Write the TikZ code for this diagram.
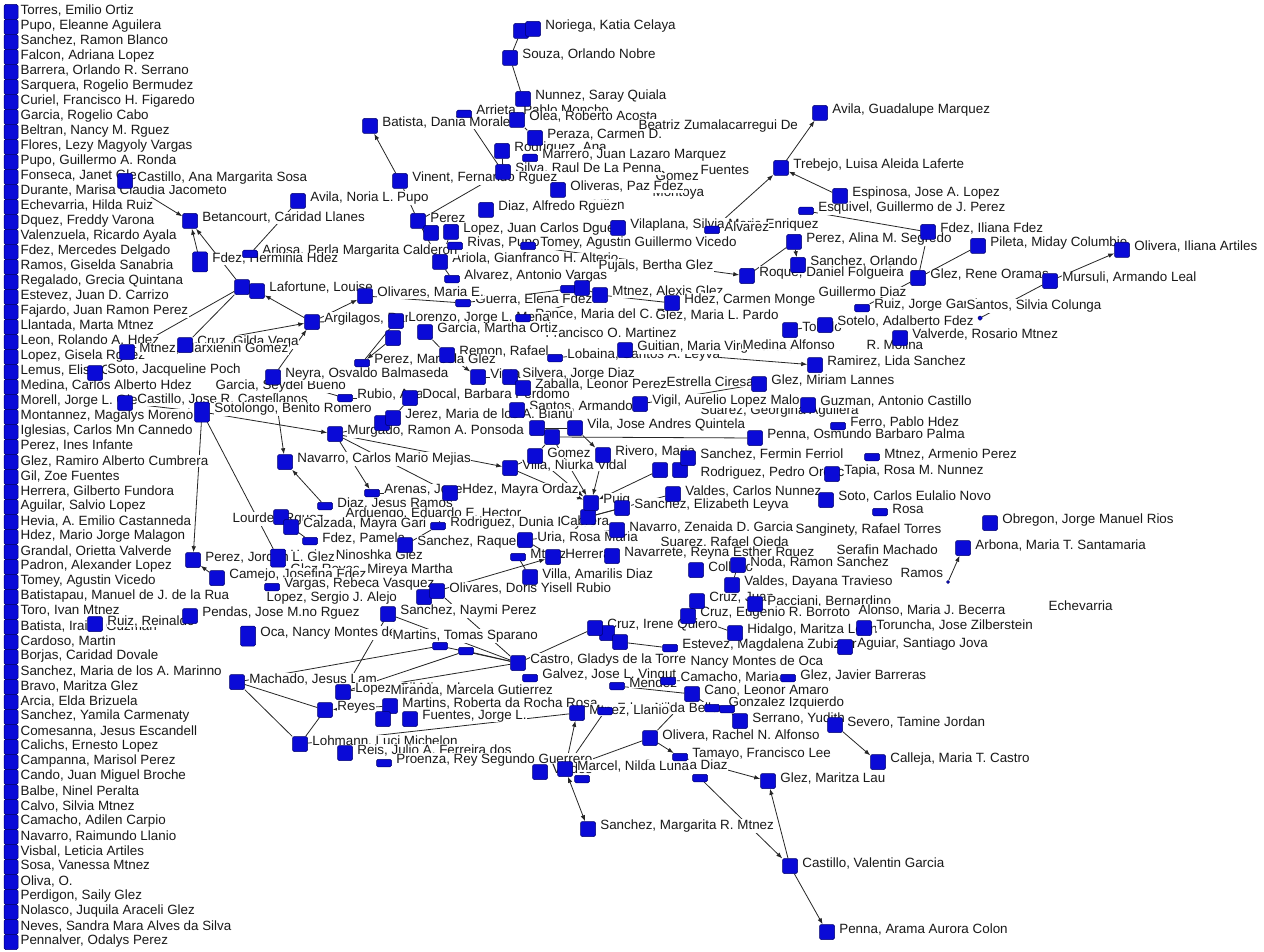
\documentclass[tikz,border=0pt]{standalone}
\usepackage{fontspec}
\setmainfont{Liberation Sans}
\usetikzlibrary{arrows.meta}
\definecolor{sqblue}{RGB}{10,10,215}
\definecolor{sqedge}{RGB}{0,0,110}
\definecolor{txt}{RGB}{25,25,25}
\pgfdeclarelayer{bg}\pgfdeclarelayer{fg}\pgfsetlayers{bg,main,fg}
\tikzset{
 sq/.style={rectangle,minimum width=15pt,minimum height=15pt,inner sep=0pt,fill=sqblue,draw=sqedge,line width=0.5pt,rounded corners=1.5pt},
 sqf/.style={sq,minimum height=7.5pt},
 lbl/.style={anchor=west,inner sep=0.4pt,fill=white,text=txt,font=\fontsize{13.4}{15}\selectfont},
 ar/.style={draw=black!85,line width=0.8pt,-{Latex[length=6pt,width=4.5pt]}},
 ln/.style={draw=black!85,line width=0.8pt},
 ar2/.style={draw=black!85,line width=0.8pt,{Latex[length=6pt,width=4.5pt]}-{Latex[length=6pt,width=4.5pt]}},
}
\newcommand\Nd[4][]{\begin{pgfonlayer}{fg}\node[sq,#1] (#2) at (#3) {};\end{pgfonlayer}\node[lbl] at ([xshift=4pt,yshift=3pt]#2.east) {#4};}
\newcommand\Nf[4][]{\begin{pgfonlayer}{fg}\node[sqf,#1] (#2) at (#3) {};\end{pgfonlayer}\node[lbl] at ([xshift=4pt,yshift=3pt]#2.east) {#4};}
\newcommand\Nq[3][]{\begin{pgfonlayer}{fg}\node[sq,#1] (#2) at (#3) {};\end{pgfonlayer}}
\newcommand\Nqf[3][]{\begin{pgfonlayer}{fg}\node[sqf,#1] (#2) at (#3) {};\end{pgfonlayer}}
\newcommand\Lb[2]{\node[lbl] at (#1) {#2};}
\begin{document}
\begin{tikzpicture}[x=1pt,y=-1pt]
\useasboundingbox (0,0) rectangle (1264,952);
\begin{pgfonlayer}{bg}\fill[white] (0,0) rectangle (1264,952);\end{pgfonlayer}
% left column of isolates
\foreach \t [count=\i] in {{Torres, Emilio Ortiz},{Pupo, Eleanne Aguilera},{Sanchez, Ramon Blanco},{Falcon, Adriana Lopez},{Barrera, Orlando R. Serrano},{Sarquera, Rogelio Bermudez},{Curiel, Francisco H. Figaredo},{Garcia, Rogelio Cabo},{Beltran, Nancy M. Rguez},{Flores, Lezy Magyoly Vargas},{Pupo, Guillermo A. Ronda},{Fonseca, Janet Glez},{Durante, Marisa Claudia Jacometo},{Echevarria, Hilda Ruiz},{Dquez, Freddy Varona},{Valenzuela, Ricardo Ayala},{Fdez, Mercedes Delgado},{Ramos, Giselda Sanabria},{Regalado, Grecia Quintana},{Estevez, Juan D. Carrizo},{Fajardo, Juan Ramon Perez},{Llantada, Marta Mtnez},{Leon, Rolando A. Hdez},{Lopez, Gisela Rguez},{Lemus, Elisa Glez},{Medina, Carlos Alberto Hdez},{Morell, Jorge L. Glez},{Montannez, Magalys Moreno},{Iglesias, Carlos Mn Cannedo},{Perez, Ines Infante},{Glez, Ramiro Alberto Cumbrera},{Gil, Zoe Fuentes},{Herrera, Gilberto Fundora},{Aguilar, Salvio Lopez},{Hevia, A. Emilio Castanneda},{Hdez, Mario Jorge Malagon},{Grandal, Orietta Valverde},{Padron, Alexander Lopez},{Tomey, Agustin Vicedo},{Batistapau, Manuel de J. de la Rua},{Toro, Ivan Mtnez},{Batista, Iraida Guzman},{Cardoso, Martin},{Borjas, Caridad Dovale},{Sanchez, Maria de los A. Marinno},{Bravo, Maritza Glez},{Arcia, Elda Brizuela},{Sanchez, Yamila Carmenaty},{Comesanna, Jesus Escandell},{Calichs, Ernesto Lopez},{Campanna, Marisol Perez},{Cando, Juan Miguel Broche},{Balbe, Ninel Peralta},{Calvo, Silvia Mtnez},{Camacho, Adilen Carpio},{Navarro, Raimundo Llanio},{Visbal, Leticia Artiles},{Sosa, Vanessa Mtnez},{Oliva, O.},{Perdigon, Saily Glez},{Nolasco, Juquila Araceli Glez},{Neves, Sandra Mara Alves da Silva},{Pennalver, Odalys Perez}}{
  \pgfmathsetmacro\yy{12+15*(\i-1)}
  \node[sq,minimum width=14pt] (L\i) at (11,\yy) {};
  \node[lbl] at (20,\yy-1) {\t};
}
% ---- top cluster
\Nq{nor2}{521,31}
\Nd{nor}{533,29}{Noriega, Katia Celaya}
\Nd{sou}{510,58}{Souza, Orlando Nobre}
\Nd{nun}{523,99}{Nunnez, Saray Quiala}
\Nf{arr}{464,114}{Arrieta, Pablo Moncho}
\Nd{ole}{517,120}{Olea, Roberto Acosta}
\Lb{638,126}{Beatriz Zumalacarregui De}
\Nd{per}{535,138}{Peraza, Carmen D.}
\Nd{roj}{502,151}{Rodriguez, Ana}
\Nf{marr}{530,158}{Marrero, Juan Lazaro Marquez}
\Lb{700,170}{Fuentes}
\Lb{655,176}{Gomez}
\Nd{sil}{503,172}{Silva, Raul De La Penna}
\Lb{652,193}{Montoya}
\Nd{oliv}{558,190}{Oliveras, Paz Fdez}
\Lb{592,205}{Milan}
\Nd{diaA}{486,210}{Diaz, Alfredo Rguez}
\Nd{batD}{370,126}{Batista, Dania Morales}
\Nd{vin}{400,181}{Vinent, Fernando Rguez}
\Nd{aviN}{298,201}{Avila, Noria L. Pupo}
\Nd{perz}{418,221}{Perez}
\Nq{lq1}{431,233}
\Nd{lopJ}{451,232}{Lopez, Juan Carlos Dguez}
\Nf{riv}{455,246}{Rivas, Pupo}
\Nd{vila}{618,228}{Vilaplana, Silvia Maria Enriquez}
\Nf{aco}{712,230}{Alvarez}
\Nf{tomV}{528,246}{Tomey, Agustin Guillermo Vicedo}
\Nd{ari}{440,262}{Ariola, Gianfranco H. Alterio}
\Lb{598,266}{Pujals, Bertha Glez}
\Nf{alvA}{452,279}{Alvarez, Antonio Vargas}
\Nqf{q2}{568,289}
\Nq{q3}{582,288}
\Nf{gue}{463,303}{Guerra, Elena Fdez}
\Nd{mtA}{600,295}{Mtnez, Alexis Glez}
\Nd{hdzC}{672,303}{Hdez, Carmen Monge}
\Nf{ponC}{523,318}{Ponce, Maria del C. Rguez}
\Lb{655,316}{Glez, Maria L. Pardo}
\Lb{545,333}{Francisco O. Martinez}
% ---- left cluster
\Nd{casA}{125,181}{Castillo, Ana Margarita Sosa}
\Nd{bet}{190,221}{Betancourt, Caridad Llanes}
\Nf{ariP}{250,254}{Ariosa, Perla Margarita Calderon}
\Nd[minimum height=20pt]{fdH}{200,262}{Fdez, Herminia Hdez}
\Nq{laf2}{242,287}
\Nd{laf}{257,291}{Lafortune, Louise}
\Nd{olME}{365,296}{Olivares, Maria E.}
\Nd{arg}{312,322}{Argilagos, Ramon}
\Nd{lor}{396,321}{Lorenzo, Jorge L. Mena}
\Nq{ga2}{393,338}
\Nd{garM}{425,332}{Garcia, Martha Ortiz}
\Nd{cruG}{185,345}{Cruz, Gilda Vega}
\Nd{mtM}{127,352}{Mtnez, Marxienin Gomez}
\Nd{rem}{447,355}{Remon, Rafael}
\Nf{lob}{555,358}{Lobaina, Santos A. Leyva}
\Nd{gui}{625,350}{Guitian, Maria Virginia Glez}
\Nf{perMG}{362,363}{Perez, Marcela Glez}
\Nd{sotJ}{95,373}{Soto, Jacqueline Poch}
\Lb{215,386}{Garcia, Seydel Bueno}
\Nd{ney}{273,377}{Neyra, Osvaldo Balmaseda}
\Nd{vi}{478,377}{Vieta}
\Nd{silv}{510,377}{Silvera, Jorge Diaz}
\Nd{zab}{523,388}{Zaballa, Leonor Perez}
\Lb{666,382}{Estrella Ciresa}
\Nf{rub}{345,398}{Rubio, Ana}
\Nd{doc}{410,398}{Docal, Barbara Perdomo}
\Nd{san}{517,410}{Santos, Armando}
\Nd{casJ}{125,403}{Castillo, Jose R. Castellanos}
\Nd[minimum height=20pt]{sotB}{202,412}{Sotolongo, Benito Romero}
\Nq{jer2}{382,423}
\Nd{jer}{393,418}{Jerez, Maria de los A. Bianu}
\Lb{700,411}{Suarez, Georgina Aguilera}
\Nd{vig}{640,404}{Vigil, Aurelio Lopez Malo}
\Nd{glM}{759,384}{Glez, Miriam Lannes}
\Nd{ram}{815,365}{Ramirez, Lida Sanchez}
\Nd{guz}{808,405}{Guzman, Antonio Castillo}
\Nd{mur}{335,434}{Murgado, Ramon A. Ponsoda}
\Nq{riz}{537,428}
\Nq{riz2}{552,437}
\Nd{vilJ}{575,428}{Vila, Jose Andres Quintela}
\Nf{fer}{838,426}{Ferro, Pablo Hdez}
\Nd{penO}{755,438}{Penna, Osmundo Barbaro Palma}
\Nd{gome}{535,456}{Gomez}
\Nd{rivM}{603,455}{Rivero, Maria}
\Nq{sf1}{660,470}
\Nq{sf2}{680,470}
\Nd{sanF}{688,458}{Sanchez, Fermin Ferriol}
\Nf{mtAP}{872,457}{Mtnez, Armenio Perez}
\Lb{700,473}{Rodriguez, Pedro Orozco}
\Nd{tap}{832,474}{Tapia, Rosa M. Nunnez}
\Nd{vidN}{510,468}{Villa, Niurka Vidal}
\Nd{nav}{285,462}{Navarro, Carlos Mario Mejias}
\Nf{arn}{372,493}{Arenas, Jose}
\Nd{hdM}{450,493}{Hdez, Mayra Ordaz}
\Nd{valC}{673,494}{Valdes, Carlos Nunnez}
\Nd{soto}{826,500}{Soto, Carlos Eulalio Novo}
\Nq{puig2}{588,517}
\Nd{puig}{591,503}{Puig}
\Nd{sanE}{622,508}{Sanchez, Elizabeth Leyva}
\Nf{rosa}{880,512}{Rosa}
\Nf{diJ}{325,506}{Diaz, Jesus Ramos}
\Lb{345,514}{Arduengo, Eduardo E. Hector}
\Lb{232,519}{Lourdes Rguez}
\Nq{cal2}{281,517}
\Nd{cal}{291,527}{Calzada, Mayra Gari}
\Nf{jezD}{438,526}{Rodriguez, Dunia Reyes}
\Lb{560,521}{Cabrera}
\Nd{uria}{525,540}{Uria, Rosa Maria}
\Nd{navZ}{617,530}{Navarro, Zenaida D. Garcia}
\Lb{795,530}{Sanginety, Rafael Torres}
\Nd{obr}{990,523}{Obregon, Jorge Manuel Rios}
\Nf{fdP}{310,541}{Fdez, Pamela}
\Nd{sanR}{405,545}{Sanchez, Raquel}
\Lb{660,543}{Suarez, Rafael Ojeda}
\Lb{836,550}{Serafin Machado}
\Nd{arb}{963,548}{Arbona, Maria T. Santamaria}
\Nd[minimum height=18pt]{haz}{278,558}{Hazim, Ninoshka Glez}
\Nd{perJ}{193,560}{Perez, Jordan L. Glez}
\Nf{mtz}{518,557}{Mtnez}
\Nd{herr}{553,557}{Herrera}
\Nd{navR}{612,556}{Navarrete, Reyna Esther Rguez}
\Lb{290,570}{Glez Reyes, Mireya Martha}
\Nd{col}{696,570}{Collazo}
\Nd{noda}{738,565}{Noda, Ramon Sanchez}
\Lb{900,573}{Ramos}
\Nq[minimum width=3pt,minimum height=3pt]{ramq}{948,582}
\Nd{cam}{217,578}{Camejo, Josefina Fdez}
\Nd{villaA}{530,577}{Villa, Amarilis Diaz}
\Nd{valD}{732,585}{Valdes, Dayana Travieso}
\Nf{reb}{272,587}{Vargas, Rebeca Vasquez}
\Nq{olD2}{424,597}
\Nd{olD}{437,591}{Olivares, Doris Yisell Rubio}
\Lb{266,598}{Lopez, Sergio J. Alejo}
\Nd{cruJ}{697,601}{Cruz, Juan}
\Nd{pac}{755,604}{Pacciani, Bernardino}
\Lb{858,610}{Alonso, Maria J. Becerra}
\Lb{1048,606}{Echevarria}
\Nd{pen}{190,616}{Pendas, Jose M.no Rguez}
\Nd{ruiR}{95,624}{Ruiz, Reinaldo}
\Nd{sanN}{388,614}{Sanchez, Naymi Perez}
\Nd{cruE}{688,616}{Cruz, Eugenio R. Borroto}
\Nq{ci2}{607,633}
\Nq{ci3}{620,642}
\Nd{cruI}{595,628}{Cruz, Irene Quiero}
\Nd{hid}{735,633}{Hidalgo, Maritza Leon}
\Nd{tor}{864,628}{Toruncha, Jose Zilberstein}
\Nd[minimum height=20pt]{oca}{248,636}{Oca, Nancy Montes de}
\Lb{392,636}{Martins, Tomas Sparano}
\Nqf{mq1}{440,646}
\Nqf{mq2}{466,651}
\Nf{estM}{670,648}{Estevez, Magdalena Zubizarreta}
\Nd{agu}{845,647}{Aguiar, Santiago Jova}
\Nd{castG}{518,663}{Castro, Gladys de la Torre}
\Lb{690,662}{Nancy Montes de Oca}
\Nf{galJ}{530,678}{Galvez, Jose L. Vingut}
\Nqf{camq}{668,681}
\Lb{680,677}{Camacho, Maria}
\Nf{glJ}{788,678}{Glez, Javier Barreras}
\Nd{mach}{237,682}{Machado, Jesus Lam}
\Nd{lopG}{343,692}{Lopez, Gil Miranda}
\Lb{390,690}{Miranda, Marcela Gutierrez}
\Nf{men}{617,686}{Mendez}
\Lb{728,703}{Gonzalez Izquierdo}
\Nd{cano}{692,694}{Cano, Leonor Amaro}
\Nd{rey}{325,710}{Reyes}
\Nd{marR}{390,706}{Martins, Roberta da Rocha Rosa}
\Nq{mr2}{383,719}
\Nd{fueJ}{410,719}{Fuentes, Jorge L.}
\Nf{nilB}{605,711}{Fdez, Nilda Bello}
\Nd{mtL}{577,713}{Mtnez, Llanio}
\Nqf{cq1}{712,708}
\Nqf{cq2}{727,709}
\Nd{serY}{740,721}{Serrano, Yudith}
\Nd{sev}{835,725}{Severo, Tamine Jordan}
\Nd{olR}{650,738}{Olivera, Rachel N. Alfonso}
\Nd{loh}{300,744}{Lohmann, Luci Michelon}
\Nd{reis}{345,753}{Reis, Julio A. Ferreira dos}
\Nf{proe}{384,763}{Proenza, Rey Segundo Guerrero}
\Nf{tam}{680,757}{Tamayo, Francisco Lee}
\Nd{calle}{878,762}{Calleja, Maria T. Castro}
\Lb{642,766}{Quesada Diaz}
\Nqf{ques}{700,778}
\Nd{val}{540,772}{Valdes}
\Nd{marc}{565,769}{Marcel, Nilda Luna}
\Nqf{mq3}{582,779}
\Nd{glL}{768,781}{Glez, Maritza Lau}
\Nd{sanM}{588,829}{Sanchez, Margarita R. Mtnez}
\Nd{casV}{790,866}{Castillo, Valentin Garcia}
\Nd{penA}{827,932}{Penna, Arama Aurora Colon}
% ---- right cluster
\Nd{aviG}{820,113}{Avila, Guadalupe Marquez}
\Nd{tre}{781,168}{Trebejo, Luisa Aleida Laferte}
\Nd{esp}{840,196}{Espinosa, Jose A. Lopez}
\Nf{esq}{806,211}{Esquivel, Guillermo de J. Perez}
\Nd{fdI}{928,232}{Fdez, Iliana Fdez}
\Nd{perA}{794,242}{Perez, Alina M. Segredo}
\Nd{pil}{978,246}{Pileta, Miday Columbie}
\Nd{olI}{1122,250}{Olivera, Iliana Artiles}
\Nd{sanO}{798,265}{Sanchez, Orlando}
\Nd{roq}{747,276}{Roque, Daniel Folgueira}
\Nd{glR}{918,278}{Glez, Rene Oramas}
\Nd{mur2}{1050,281}{Mursuli, Armando Leal}
\Lb{818,292}{Guillermo Diaz}
\Nf{ruiJ}{862,308}{Ruiz, Jorge Garcia}
\Lb{966,306}{Santos, Silvia Colunga}
\Nq[minimum width=4pt,minimum height=4pt]{santS}{980,318}
\Nd{to}{790,330}{Toledo}
\Nd{sot}{825,325}{Sotelo, Adalberto Fdez}
\Nd{valR}{900,338}{Valverde, Rosario Mtnez}
\Lb{742,345}{Medina Alfonso}
\Lb{866,345}{R. Molina}
% ---- connectors
\begin{pgfonlayer}{bg}
\draw[ar] (casA) -- (bet);
\draw[ar] (fdH) -- (bet);
\draw[ar] (laf2) -- (bet);
\draw[ar] (arg) -- (laf);
\draw[ar] (arg) -- (olME);
\draw[ln] (cruG) -- (laf2);
\draw[ln] (mtM) -- (laf2);
\draw[ar] (cruG) -- (arg);
\draw[ar] (ney) -- (arg);
\draw[ln] (aviN) -- (ariP);
\draw[ar] (sotB) -- (mur);
\draw[ar] (casJ) -- (sotB);
\draw[ln] (sotB) -- (haz);
\draw[ar] (sotB) -- (perJ);
\draw[ar] (ney) -- (nav);
\draw[ar] (diJ) -- (nav);
\draw[ar] (mur) -- (arn);
\draw[ar] (mur) -- (vidN);
\draw[ln] (mur) -- (hdM);
\draw[ar] (cam) -- (perJ);
\draw[ln] (mach) -- (rey);
\draw[ln] (mach) -- (loh);
\draw[ln] (loh) -- (rey);
\draw[ln] (lopG) -- (castG);
\draw[ln] (loh) -- (mtL);
\draw[ln] (mach) -- (mq1);
\draw[ln] (lopG) -- (mq2);
\draw[ln] (lopG) -- (sanN);
\draw[ln] (castG) -- (sanN);
\draw[ln] (castG) -- (mq1);
\draw[ln] (castG) -- (mq2);
\draw[ln] (castG) -- (olD);
\draw[ln] (castG) -- (cruI);
\draw[ar] (marR) -- (rey);
\draw[ar2] (marc) -- (sanM);
\draw[ar] (marc) -- (mtL);
\draw[ln] (marc) -- (olR);
\draw[ln] (marc) -- (nilB);
\draw[ar] (olR) -- (cano);
\draw[ar] (serY) -- (cq2);
\draw[ar] (sev) -- (calle);
\draw[ar] (tam) -- (glL);
\draw[ar] (casV) -- (glL);
\draw[ar] (casV) -- (penA);
\draw[ar] (ques) -- (casV);
\draw[ar] (olR) -- (tam);
\draw[ar] (vin) -- (batD);
\draw[ln] (vin) -- (perz);
\draw[ar] (perz) -- (sil);
\draw[ar] (perz) -- (ari);
\draw[ar] (lopJ) -- (ari);
\draw[ln] (nor2) -- (sou);
\draw[ln] (sou) -- (nun);
\draw[ln] (ole) -- (nun);
\draw[ln] (ole) -- (per);
\draw[ar] (sil) -- (arr);
\draw[ln] (sil) -- (roj);
\draw[ar] (aco) -- (tre);
\draw[ar] (esp) -- (tre);
\draw[ar] (tre) -- (aviG);
\draw[ar] (tomV) -- (roq);
\draw[ln] (roq) -- (perA);
\draw[ar] (perA) -- (sanO);
\draw[ln] (esq) -- (fdI);
\draw[ln] (fdI) -- (glR);
\draw[ln] (glR) -- (pil);
\draw[ln] (glR) -- (ruiJ);
\draw[ln] (santS) -- (mur2);
\draw[ar] (mur2) -- (olI);
\draw[ar] (ga2) -- (perMG);
\draw[ln] (lor) -- (perMG);
\draw[ln] (garM) -- (rem);
\draw[ar] (rem) -- (vi);
\draw[ar] (vi) -- (silv);
\draw[ln] (silv) -- (zab);
\draw[ln] (lor) -- (arg);
\draw[ln] (olME) -- (gue);
\draw[ln] (gue) -- (q2);
\draw[ln] (q3) -- (mtA);
\draw[ln] (ponC) -- (mtA);
\draw[ln] (hdzC) -- (mtA);
\draw[ln] (ari) -- (alvA);
\draw[ln] (lob) -- (gui);
\draw[ln] (jer) -- (doc);
\draw[ln] (jer2) -- (mur);
\draw[ln] (san) -- (riz);
\draw[ln] (riz) -- (vilJ);
\draw[ln] (riz2) -- (gome);
\draw[ln] (gome) -- (vidN);
\draw[ar] (vidN) -- (puig);
\draw[ar] (gome) -- (puig);
\draw[ar] (rivM) -- (puig);
\draw[ar] (riz2) -- (puig);
\draw[ar] (vilJ) -- (rivM);
\draw[ar] (sanF) -- (sf2);
\draw[ar] (sf1) -- (puig);
\draw[ln] (valC) -- (puig2);
\draw[ln] (sanE) -- (puig2);
\draw[ln] (navZ) -- (uria);
\draw[ln] (uria) -- (herr);
\draw[ln] (navR) -- (herr);
\draw[ar] (olD) -- (herr);
\draw[ln] (villaA) -- (mtz);
\draw[ln] (hdM) -- (jezD);
\draw[ln] (arn) -- (hdM);
\draw[ln] (sanR) -- (jezD);
\draw[ln] (cal) -- (fdP);
\draw[ln] (ney) -- (rub);
\draw[ln] (rub) -- (doc);
\draw[ar] (gui) -- (ram);
\draw[ln] (glM) -- (vig);
\draw[ln] (penO) -- (riz2);
\draw[ln] (sot) -- (to);
\draw[ar] (ramq) -- (arb);
\draw[ln] (noda) -- (valD);
\draw[ln] (cruJ) -- (cruE);
\draw[ln] (hid) -- (cruE);
\draw[ln] (cruI) -- (ci3);
\draw[ln] (estM) -- (ci3);
\draw[ln] (glJ) -- (camq);
\draw[ln] (cano) -- (men);
\draw[ln] (cq1) -- (cano);
\end{pgfonlayer}
\end{tikzpicture}
\end{document}
